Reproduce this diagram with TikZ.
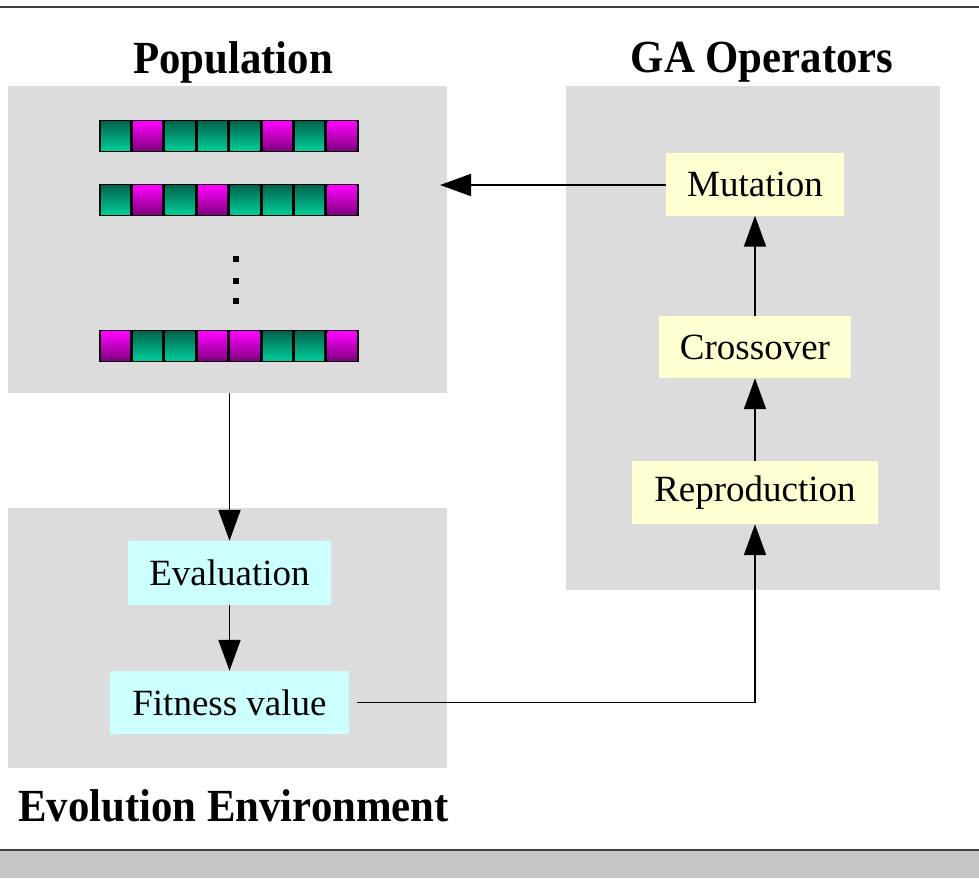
\documentclass[tikz,border=0pt]{standalone}
\usepackage{fontspec}
\setmainfont{Liberation Serif}
\usetikzlibrary{arrows.meta,calc}
\definecolor{panelgray}{HTML}{DCDCDC}
\definecolor{opyellow}{HTML}{FFFFD2}
\definecolor{evcyan}{HTML}{CCFFFF}
\definecolor{stripgray}{HTML}{C5C5C5}
\definecolor{rulegray}{HTML}{404040}
\definecolor{tealtop}{HTML}{00664D}
\definecolor{tealbot}{HTML}{00CC99}
\definecolor{magtop}{HTML}{FF00FF}
\definecolor{magbot}{HTML}{800080}
\tikzset{
  panel/.style={fill=panelgray, draw=none, inner sep=0pt},
  title/.style={font=\fontsize{46}{50}\selectfont\bfseries, inner sep=0pt},
  opbox/.style={fill=opyellow, draw=none, font=\fontsize{37}{40}\selectfont, inner sep=0pt},
  evbox/.style={fill=evcyan, draw=none, font=\fontsize{37}{40}\selectfont, inner sep=0pt},
  flow/.style={line width=1.9pt, -{Triangle[length=31pt,width=22pt]}},
  cellT/.style={top color=tealtop, bottom color=tealbot},
  cellM/.style={top color=magtop, bottom color=magbot},
}
\begin{document}
\begin{tikzpicture}[x=1pt,y=-1pt]
\useasboundingbox (0,0) rectangle (979,878);
% frame rules and bottom strip
\draw[line width=2.5pt, rulegray] (0,7) -- (979,7);
\fill[stripgray] (0,851) rectangle (979,878);
\draw[line width=2.5pt, rulegray] (0,850) -- (979,850);
% panels
\node[panel, minimum width=439pt, minimum height=307pt] (pop) at (227.5,239.5) {};
\node[panel, minimum width=374pt, minimum height=504pt] (ga) at (753,338) {};
\node[panel, minimum width=439pt, minimum height=260pt] (env) at (227.5,638) {};
% titles
\node[title] (poptitle) at (233,62) {\scalebox{0.93}[1]{Population}};
\node[title] (gatitle) at (762,62) {\scalebox{0.93}[1]{GA Operators}};
\node[title, anchor=west] (envtitle) at (18,806) {\scalebox{0.93}[1]{Evolution Environment}};
% chromosomes
\foreach \yy/\pat in {120/{0,1,0,0,0,1,0,1}, 184/{0,1,0,1,0,0,0,1}, 330/{1,0,0,1,1,0,0,1}} {
  \fill[black] (99,\yy) rectangle (359,\yy+32);
  \foreach \c [count=\i from 0] in \pat {
    \ifnum\c=0
      \shade[cellT] (100.8+\i*32.4,\yy+1.5) rectangle (129.8+\i*32.4,\yy+30.5);
    \else
      \shade[cellM] (100.8+\i*32.4,\yy+1.5) rectangle (129.8+\i*32.4,\yy+30.5);
    \fi
  }
}
% vertical dots
\foreach \dy in {259,281,301} {
  \fill[black] (233,\dy-3) rectangle (239,\dy+3);
}
% operator boxes
\node[opbox, minimum width=178pt, minimum height=63pt] (mut) at (755,184) {Mutation};
\node[opbox, minimum width=192pt, minimum height=62pt] (cross) at (755,347) {Crossover};
\node[opbox, minimum width=246pt, minimum height=63pt] (rep) at (755,492.5) {Reproduction};
% evaluation boxes
\node[evbox, minimum width=203pt, minimum height=64pt] (eval) at (229.5,573) {Evaluation};
\node[evbox, minimum width=239pt, minimum height=63pt] (fit) at (229.5,702.5) {Fitness value};
% connector helper points
\coordinate (popin) at (440,185);
\coordinate (fitout) at ($(fit.east)+(8,0)$);
% connectors
\draw[flow] (mut.west |- popin) -- (popin);
\draw[flow] (pop.south -| eval.north) -- (eval.north);
\draw[flow] (eval.south) -- (fit.north);
\draw[flow] (rep.north) -- (cross.south);
\draw[flow] (cross.north) -- (mut.south);
\draw[flow] (fitout) -| (rep.south);
\end{tikzpicture}
\end{document}
